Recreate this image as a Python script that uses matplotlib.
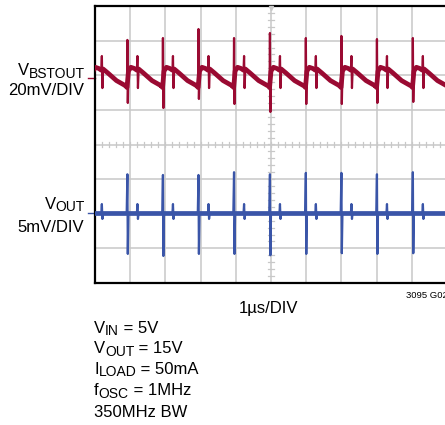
import matplotlib
matplotlib.use("Agg")
import matplotlib.pyplot as plt
import numpy as np

W, H = 445, 425
FONT = ["Liberation Sans", "DejaVu Sans"]
plt.rcParams["font.family"] = FONT

# ---------------- data ----------------
# time of each switching spike (µs), first one is just off-screen
spike_t = [-0.09, 0.92, 1.93, 2.94, 3.95, 4.97, 5.99, 7.00, 8.01, 9.03]

# VBSTOUT (mV, relative to its marker), 20mV/DIV
bst_hi = [23.0, 22.0, 23.1, 28.3, 23.1, 26.0, 23.1, 24.3, 22.5, 23.1]
bst_lo = [-15.0, -14.4, -17.3, -12.1, -15.0, -19.6, -15.0, -15.0, -14.4, -13.8]
# one-cycle shape around a spike: time offset (µs) and level (mV); HI/LO = spike peak / trough
bst_dt = [-0.04, -0.01, 0.0, 0.012, 0.03, 0.10, 0.20, 0.27, 0.285, 0.30, 0.32, 0.45, 0.70, 0.97]
bst_mv = [-4.8, -5.5, "HI", "LO", 4.0, 6.2, 5.5, 4.5, 12.7, -5.8, 5.2, 3.0, -1.5, -4.6]

# VOUT (mV, relative to its marker), 5mV/DIV
out_hi = [5.7, 5.6, 5.5, 5.5, 5.9, 5.6, 5.8, 5.8, 5.6, 5.9]
out_lo = [-5.9, -5.9, -6.2, -5.9, -5.9, -6.1, -5.9, -5.8, -5.9, -5.8]
out_dt = [-0.02, 0.0, 0.012, 0.03, 0.27, 0.285, 0.30, 0.32, 0.97]
out_mv = [0.0, "HI", "LO", 0.0, 0.0, 1.3, -0.85, 0.0, 0.0]

bst_scale, bst_offset = 20.0, 1.92    # mV/div, marker position (div)
out_scale, out_offset = 5.0, -1.98

RED = "#9a0a32"
BLUE = "#3a55a8"
GRID = "#c8c8c8"


def build(times, his, los, dts, mvs, scale, offset, with_spikes=True):
    t_all, v_all = [], []
    for ts, hi, lo in zip(times, his, los):
        for dt, mv in zip(dts, mvs):
            if mv == "HI":
                if not with_spikes:
                    continue
                mv = hi
            elif mv == "LO":
                if not with_spikes:
                    continue
                mv = lo
            elif not with_spikes and 0.28 <= dt <= 0.305:
                continue
            t_all.append(ts + dt)
            v_all.append(mv / scale + offset)
    return np.array(t_all), np.array(v_all)


fig = plt.figure(figsize=(W / 100, H / 100), dpi=100)
ax_left, ax_right, ax_top, ax_bot = 95, 447, 6, 283
ax = fig.add_axes([ax_left / W, 1 - ax_bot / H, (ax_right - ax_left) / W, (ax_bot - ax_top) / H])
ax.set_xlim(0, 10)
ax.set_ylim(-4, 4)

# grid
for xg in range(1, 10):
    ax.axvline(xg, color=GRID, lw=1.1, zorder=1)
for yg in range(-3, 4):
    ax.axhline(yg, color=GRID, lw=1.1, zorder=1)
# center-line minor ticks
mx = np.arange(0, 10.01, 0.2)
for x in mx:
    ax.plot([x, x], [-0.08, 0.08], color=GRID, lw=0.9, zorder=1)
my = np.arange(-4, 4.01, 0.2)
for y in my:
    ax.plot([5 - 0.08, 5 + 0.08], [y, y], color=GRID, lw=0.9, zorder=1)

# traces
tb, vb = build(spike_t, bst_hi, bst_lo, bst_dt, bst_mv, bst_scale, bst_offset, False)
ax.plot(tb, vb, color=RED, lw=3.4, zorder=3, solid_joinstyle="round")
tb, vb = build(spike_t, bst_hi, bst_lo, bst_dt, bst_mv, bst_scale, bst_offset, True)
ax.plot(tb, vb, color=RED, lw=1.6, zorder=3)

to, vo = build(spike_t, out_hi, out_lo, out_dt, out_mv, out_scale, out_offset, False)
ax.plot(to, vo, color=BLUE, lw=3.4, zorder=3)
to, vo = build(spike_t, out_hi, out_lo, out_dt, out_mv, out_scale, out_offset, True)
ax.plot(to, vo, color=BLUE, lw=1.6, zorder=3)

# trace markers on the left
ax.plot([-0.2, 0], [bst_offset, bst_offset], color=RED, lw=1.0, clip_on=False)
ax.plot([-0.2, 0], [out_offset, out_offset], color=BLUE, lw=1.0, clip_on=False)
ax.plot([5], [3.95], marker="v", color="#c8c8c8", ms=3, clip_on=False, zorder=4)

ax.set_xticks([])
ax.set_yticks([])
for s in ["top", "left", "bottom"]:
    ax.spines[s].set_linewidth(1.6)
    ax.spines[s].set_color("black")
ax.spines["right"].set_visible(False)


def rich(x, y, parts, ha="left", size=12.0):
    r = fig.canvas.get_renderer()
    objs = []
    for s, sub in parts:
        fs = size * 0.83 if sub else size
        dy = 2.5 if sub else 0.0
        t = fig.text(0, 0, s, fontsize=fs, va="baseline", ha="left", family=FONT, color="black")
        objs.append((t, dy))
    widths = [t.get_window_extent(r).width for t, _ in objs]
    total = sum(widths)
    if ha == "right":
        x0 = x - total
    elif ha == "center":
        x0 = x - total / 2
    else:
        x0 = x
    for (t, dy), w in zip(objs, widths):
        t.set_position((x0 / W, 1 - (y + dy) / H))
        x0 += w


rich(85, 75, [("V", False), ("BSTOUT", True)], ha="right")
rich(84, 95, [("20mV/DIV", False)], ha="right")
rich(85, 209, [("V", False), ("OUT", True)], ha="right")
rich(84, 231.5, [("5mV/DIV", False)], ha="right")
rich(268, 313, [("1µs/DIV", False)], ha="center")
fig.text(406.5 / W, 1 - 297.5 / H, "3095 G02", fontsize=6.8, va="baseline", ha="left", family=FONT)

rich(94, 332.7, [("V", False), ("IN", True), (" = 5V", False)])
rich(94, 353.3, [("V", False), ("OUT", True), (" = 15V", False)])
rich(94, 374, [("I", False), ("LOAD", True), (" = 50mA", False)])
rich(94, 395, [("f", False), ("OSC", True), (" = 1MHz", False)])
rich(94, 416.7, [("350MHz BW", False)])

fig.savefig("out.png", dpi=100)
